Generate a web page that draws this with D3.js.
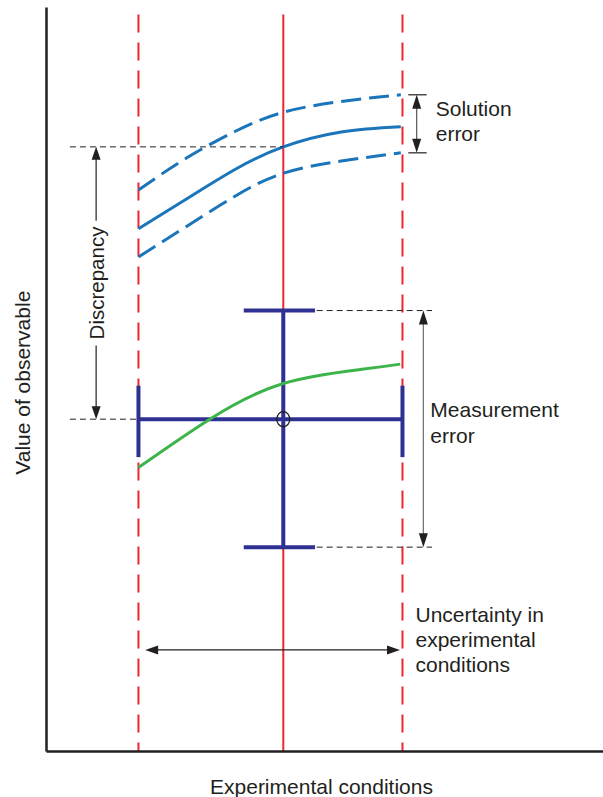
<!DOCTYPE html>
<html>
<head>
<meta charset="utf-8">
<script src="https://cdn.jsdelivr.net/npm/d3@7"></script>
<style>
  html, body { margin: 0; padding: 0; background: #fff; }
  svg { display: block; }
  text { font-family: "Liberation Sans", Arial, Helvetica, sans-serif; fill: #231f20; }
</style>
</head>
<body>
<svg id="chart" width="603" height="797"></svg>
<script>
// Experimental conditions: low, nominal, high
const conditions = [1.66, 4.26, 6.40];

// Simulation prediction (nominal) and its solution-error band
const simX       = [1.66, 2.5, 3.4, 4.26, 5.3, 6.37];
const simNominal = [7.02, 7.41, 7.82, 8.12, 8.32, 8.39];
const simUpper   = [7.54, 7.96, 8.33, 8.585, 8.73, 8.82];
const simLower   = [6.64, 7.04, 7.46, 7.765, 7.93, 8.04];

// True response
const trueX = [1.66, 2.94, 4.26, 5.67, 6.36];
const trueY = [3.81, 4.46, 4.94, 5.13, 5.20];

// Measured value with error bars
const measured   = [4.26, 4.46];      // [condition, value]
const measXRange = [1.66, 6.40];      // uncertainty in conditions
const measYRange = [2.74, 5.92];      // measurement error
const measXCap   = [3.55, 4.83];      // extent of horizontal caps
const measYCap   = [3.95, 4.91];      // extent of vertical caps

// Annotation positions
const discrepancyX   = 0.90;
const leaderStartX   = 0.43;
const solErrX        = 6.655;
const solErrCap      = [6.505, 6.835];
const measErrX       = 6.775;
const measErrLeader  = [4.86, 6.93];
const uncertaintyY   = 1.358;
const uncertaintyTip = [1.78, 6.355];
const redLineTop     = 9.9;

const labels = {
  xAxis: "Experimental conditions",
  yAxis: "Value of observable",
  discrepancy: "Discrepancy",
  solution: ["Solution", "error"],
  measurement: ["Measurement", "error"],
  uncertainty: ["Uncertainty in", "experimental", "conditions"]
};

const svg = d3.select("#chart");
const x = d3.scaleLinear().domain([0, 10]).range([46, 603]);
const y = d3.scaleLinear().domain([0, 10]).range([751, 7]);

const RED = "#ec2630", BLUE = "#1a75bb", NAVY = "#2e3192", GREEN = "#3cb44a", INK = "#231f20";

// Condition lines (low / high dashed, nominal solid)
conditions.forEach((c, i) => {
  svg.append("line")
    .attr("x1", x(c)).attr("x2", x(c))
    .attr("y1", y(redLineTop)).attr("y2", y(0))
    .attr("stroke", RED).attr("stroke-width", 2)
    .attr("stroke-dasharray", i === 1 ? null : "18,10");
});

// Axes
const xAxis = svg.append("g").attr("transform", `translate(0,${y(0)})`)
  .call(d3.axisBottom(x).ticks(0).tickSizeOuter(0));
const yAxis = svg.append("g").attr("transform", `translate(${x(0)},0)`)
  .call(d3.axisLeft(y).ticks(0).tickSizeOuter(0));
[xAxis, yAxis].forEach(g => g.select(".domain").attr("stroke", INK).attr("stroke-width", 2.5));

// Helpers
const thinDash = (x1, y1, x2, y2) => svg.append("line")
  .attr("x1", x1).attr("y1", y1).attr("x2", x2).attr("y2", y2)
  .attr("stroke", INK).attr("stroke-width", 1).attr("stroke-dasharray", "6,4");

function head(px, py, dir, len = 13, half = 4.5) {
  // dir: "up" | "down" | "left" | "right"; (px,py) is the tip
  let pts;
  if (dir === "up")    pts = [[px, py], [px - half, py + len], [px + half, py + len]];
  if (dir === "down")  pts = [[px, py], [px - half, py - len], [px + half, py - len]];
  if (dir === "left")  pts = [[px, py], [px + len, py - half], [px + len, py + half]];
  if (dir === "right") pts = [[px, py], [px - len, py - half], [px - len, py + half]];
  svg.append("path").attr("d", d3.line()(pts) + "Z").attr("fill", INK);
}

// Simulation curves
const curve = d3.line().curve(d3.curveNatural).x(d => x(d[0])).y(d => y(d[1]));
[[simUpper, "20,8"], [simLower, "20,8"], [simNominal, null]].forEach(([vals, dash]) => {
  svg.append("path")
    .attr("d", curve(simX.map((v, i) => [v, vals[i]])))
    .attr("fill", "none").attr("stroke", BLUE).attr("stroke-width", 3)
    .attr("stroke-dasharray", dash);
});

// Measurement with error bars
const errG = svg.append("g").attr("stroke", NAVY).attr("stroke-width", 4).attr("fill", "none");
errG.append("line").attr("x1", x(measXRange[0])).attr("x2", x(measXRange[1]))
  .attr("y1", y(measured[1])).attr("y2", y(measured[1]));
errG.append("line").attr("x1", x(measured[0])).attr("x2", x(measured[0]))
  .attr("y1", y(measYRange[0])).attr("y2", y(measYRange[1]));
measYRange.forEach(v => errG.append("line")
  .attr("x1", x(measXCap[0])).attr("x2", x(measXCap[1])).attr("y1", y(v)).attr("y2", y(v)));
measXRange.forEach(v => errG.append("line")
  .attr("x1", x(v)).attr("x2", x(v)).attr("y1", y(measYCap[0])).attr("y2", y(measYCap[1])));
svg.append("ellipse").attr("cx", x(measured[0])).attr("cy", y(measured[1]))
  .attr("rx", 6.5).attr("ry", 7.5).attr("fill", "none").attr("stroke", INK).attr("stroke-width", 1.3);

// True response
svg.append("path")
  .attr("d", curve(trueX.map((v, i) => [v, trueY[i]])))
  .attr("fill", "none").attr("stroke", GREEN).attr("stroke-width", 3);

// Discrepancy
const dTop = y(simNominal[3]), dBot = y(measured[1]), dX = x(discrepancyX);
thinDash(x(leaderStartX), dTop, x(conditions[1]), dTop);
thinDash(x(leaderStartX), dBot, x(conditions[0]), dBot);
const dText = svg.append("text")
  .attr("transform", `translate(${dX + 8},${(dTop + dBot) / 2}) rotate(-90)`)
  .attr("text-anchor", "middle").attr("font-size", 20.5).text(labels.discrepancy);
const dLen = dText.node().getComputedTextLength();
const dMid = (dTop + dBot) / 2;
svg.append("line").attr("x1", dX).attr("x2", dX).attr("y1", dTop + 10).attr("y2", dMid - dLen / 2 - 6)
  .attr("stroke", INK).attr("stroke-width", 1.2);
svg.append("line").attr("x1", dX).attr("x2", dX).attr("y1", dMid + dLen / 2 + 6).attr("y2", dBot - 10)
  .attr("stroke", INK).attr("stroke-width", 1.2);
head(dX, dTop, "up");
head(dX, dBot, "down");

// Solution error
const sTop = y(simUpper[simUpper.length - 1]), sBot = y(simLower[simLower.length - 1]);
[sTop, sBot].forEach(v => svg.append("line")
  .attr("x1", x(solErrCap[0])).attr("x2", x(solErrCap[1])).attr("y1", v).attr("y2", v)
  .attr("stroke", INK).attr("stroke-width", 1.2));
svg.append("line").attr("x1", x(solErrX)).attr("x2", x(solErrX)).attr("y1", sTop + 10).attr("y2", sBot - 10)
  .attr("stroke", "#555").attr("stroke-width", 1.2);
head(x(solErrX), sTop, "up", 14, 4.5);
head(x(solErrX), sBot, "down", 14, 4.5);
labels.solution.forEach((t, i) => svg.append("text")
  .attr("x", x(solErrCap[1]) + 9).attr("y", sTop + 21 + i * 25)
  .attr("font-size", 21).text(t));

// Measurement error
const mTop = y(measYRange[1]), mBot = y(measYRange[0]);
[mTop, mBot].forEach(v => thinDash(x(measErrLeader[0]), v, x(measErrLeader[1]), v));
svg.append("line").attr("x1", x(measErrX)).attr("x2", x(measErrX)).attr("y1", mTop + 10).attr("y2", mBot - 10)
  .attr("stroke", "#777").attr("stroke-width", 1.3);
head(x(measErrX), mTop, "up", 14, 4.5);
head(x(measErrX), mBot, "down", 14, 4.5);
labels.measurement.forEach((t, i) => svg.append("text")
  .attr("x", x(measErrX) + 7).attr("y", y(measured[1]) - 2 + i * 25.5)
  .attr("font-size", 21).text(t));

// Uncertainty in experimental conditions
const uY = y(uncertaintyY);
svg.append("line").attr("x1", x(uncertaintyTip[0]) + 10).attr("x2", x(uncertaintyTip[1]) - 10)
  .attr("y1", uY).attr("y2", uY).attr("stroke", INK).attr("stroke-width", 1.2);
head(x(uncertaintyTip[0]), uY, "left");
head(x(uncertaintyTip[1]), uY, "right");
labels.uncertainty.forEach((t, i) => svg.append("text")
  .attr("x", x(conditions[2]) + 13).attr("y", uY - 28 + i * 25)
  .attr("font-size", 21).text(t));

// Axis titles
svg.append("text").attr("x", 321.5).attr("y", y(0) + 43)
  .attr("text-anchor", "middle").attr("font-size", 21).text(labels.xAxis);
svg.append("text").attr("transform", `translate(30,${y(4.95)}) rotate(-90)`)
  .attr("text-anchor", "middle").attr("font-size", 21).text(labels.yAxis);
</script>
</body>
</html>
